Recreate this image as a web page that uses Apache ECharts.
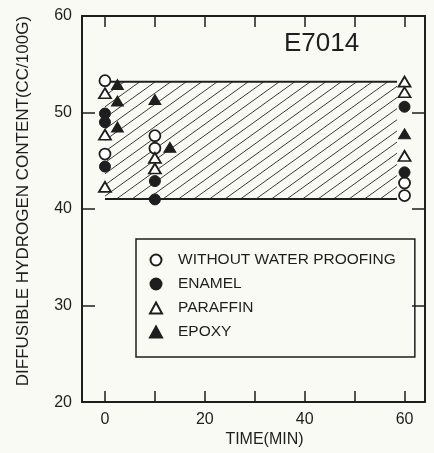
<!DOCTYPE html>
<html>
<head>
<meta charset="utf-8">
<script src="https://cdn.jsdelivr.net/npm/echarts@6/dist/echarts.min.js"></script>
<style>
html,body{margin:0;padding:0;background:#fafaf5;}
#c{width:434px;height:453px;}
</style>
</head>
<body>
<div id="c"></div>
<script>
// ---- data ----
const xTickValues = [0, 10, 20, 30, 40, 50, 60];
const xLabelValues = [0, 20, 40, 60];
const yTickValues = [30, 40, 50];
const seriesNames = ['WITHOUT WATER PROOFING', 'ENAMEL', 'PARAFFIN', 'EPOXY'];
const withoutWaterProofing = [[0, 53.3], [0, 45.7], [10, 47.6], [10, 46.3], [60, 42.7], [60, 41.4]];
const enamel = [[0, 49.9], [0, 49.0], [0, 44.4], [10, 42.9], [10, 41.0], [60, 50.6], [60, 43.8]];
const paraffin = [[0, 52.0], [0, 47.7], [0, 42.3], [10, 45.3], [10, 44.2], [60, 53.2], [60, 52.1], [60, 45.5]];
const epoxy = [[2.5, 52.9], [2.5, 51.2], [2.5, 48.5], [10, 51.35], [13, 46.4], [60, 47.8]];
const hatchBand = [[0, 58.5, 41.05, 53.2]]; // xFrom, xTo, yFrom, yTo
const titleText = 'E7014';

// ---- chart ----
const FONT = 'Liberation Sans';
const INK = '#1e1e1e';
const chart = echarts.init(document.getElementById('c'), null, {renderer: 'canvas'});

function hatchRender(params, api) {
  const x0 = api.value(0), x1 = api.value(1), y0 = api.value(2), y1 = api.value(3);
  const tl = api.coord([x0, y1]);
  const br = api.coord([x1, y0]);
  const L = tl[0], T = tl[1], R = br[0], B = br[1];
  const H = B - T;
  const slope = 0.72;
  const run = H / slope;
  const step = 15.5;
  const children = [];
  for (let c = L - run + 4; c < R; c += step) {
    let tMin = Math.max(0, (L - c) / run);
    let tMax = Math.min(1, (R - c) / run);
    if (tMax <= tMin) continue;
    children.push({
      type: 'line',
      shape: {x1: c + tMin * run, y1: B - tMin * H, x2: c + tMax * run, y2: B - tMax * H},
      style: {stroke: '#3a3a3a', lineWidth: 1}
    });
  }
  children.push({type: 'line', shape: {x1: L, y1: T, x2: R, y2: T}, style: {stroke: INK, lineWidth: 2}});
  children.push({type: 'line', shape: {x1: L, y1: B, x2: R, y2: B}, style: {stroke: INK, lineWidth: 2}});
  return {type: 'group', children: children};
}

const axisLineStyle = {show: true, onZero: false, lineStyle: {color: INK, width: 2}};
const xBase = {
  type: 'value', min: -4.6, max: 64.1,
  axisLine: axisLineStyle,
  splitLine: {show: false}
};
const yBase = {
  type: 'value', min: 20, max: 60, interval: 10,
  axisLine: axisLineStyle,
  splitLine: {show: false}
};

chart.setOption({
  backgroundColor: '#fafaf5',
  animation: false,
  textStyle: {fontFamily: FONT, color: INK},
  title: {
    text: titleText, left: 284, top: 31, padding: 0,
    textStyle: {fontFamily: FONT, fontSize: 26, fontWeight: 'normal', color: INK}
  },
  grid: {left: 82, right: 9, top: 16, bottom: 49},
  legend: {
    data: [
      {name: seriesNames[0], icon: 'circle'},
      {name: seriesNames[1], icon: 'circle'},
      {name: seriesNames[2], icon: 'triangle'},
      {name: seriesNames[3], icon: 'triangle'}
    ],
    orient: 'vertical',
    left: 136, top: 239,
    padding: [13, 19, 17, 13],
    itemWidth: 12, itemHeight: 11, itemGap: 8,
    borderColor: INK, borderWidth: 1.5,
    textStyle: {fontFamily: FONT, fontSize: 15.5, color: INK, lineHeight: 15, padding: [0, 0, 0, 11]}
  },
  xAxis: [
    Object.assign({}, xBase, {
      position: 'bottom',
      name: 'TIME(MIN)', nameLocation: 'middle', nameGap: 29,
      nameTextStyle: {fontFamily: FONT, fontSize: 16, color: INK, padding: [0, 0, 0, 22]},
      axisTick: {show: true, inside: true, length: 11, customValues: xTickValues, lineStyle: {color: INK, width: 1.5}},
      axisLabel: {show: true, customValues: xLabelValues, margin: 9, fontSize: 16, color: INK, fontFamily: FONT}
    }),
    Object.assign({}, xBase, {
      position: 'top',
      axisTick: {show: true, inside: true, length: 11, customValues: xTickValues, lineStyle: {color: INK, width: 1.5}},
      axisLabel: {show: false}
    })
  ],
  yAxis: [
    Object.assign({}, yBase, {
      position: 'left',
      name: 'DIFFUSIBLE HYDROGEN CONTENT(CC/100G)', nameLocation: 'middle', nameGap: 50,
      nameTextStyle: {fontFamily: FONT, fontSize: 17, color: INK, padding: [0, 0, 0, 16]},
      axisTick: {show: true, inside: true, length: 13, customValues: yTickValues, lineStyle: {color: INK, width: 1.5}},
      axisLabel: {show: true, margin: 10, fontSize: 16, color: INK, fontFamily: FONT}
    }),
    Object.assign({}, yBase, {
      position: 'right',
      axisTick: {show: true, inside: true, length: 13, customValues: yTickValues, lineStyle: {color: INK, width: 1.5}},
      axisLabel: {show: false}
    })
  ],
  series: [
    {
      type: 'custom', name: 'band', renderItem: hatchRender,
      data: hatchBand, encode: {x: [0, 1], y: [2, 3]}, z: 1, silent: true
    },
    {
      type: 'scatter', name: seriesNames[0], data: withoutWaterProofing,
      symbol: 'circle', symbolSize: 11, z: 3,
      itemStyle: {color: '#ffffff', borderColor: INK, borderWidth: 1.8, opacity: 1}
    },
    {
      type: 'scatter', name: seriesNames[1], data: enamel,
      symbol: 'circle', symbolSize: 11, z: 3,
      itemStyle: {color: INK, borderColor: INK, borderWidth: 1, opacity: 1}
    },
    {
      type: 'scatter', name: seriesNames[2], data: paraffin,
      symbol: 'triangle', symbolSize: [12, 10], z: 3,
      itemStyle: {color: '#ffffff', borderColor: INK, borderWidth: 1.8, opacity: 1}
    },
    {
      type: 'scatter', name: seriesNames[3], data: epoxy,
      symbol: 'triangle', symbolSize: [12, 10], z: 3,
      itemStyle: {color: INK, borderColor: INK, borderWidth: 1, opacity: 1}
    }
  ]
});
</script>
</body>
</html>
